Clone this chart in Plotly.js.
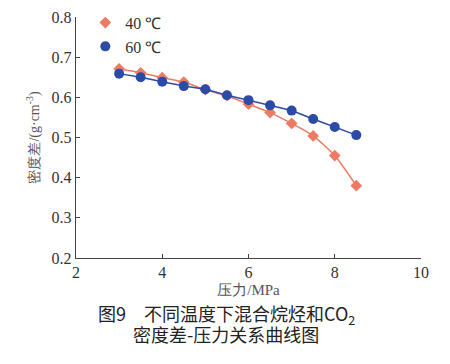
<!DOCTYPE html>
<html>
<head>
<meta charset="utf-8">
<script src="https://cdn.plot.ly/plotly-3.0.1.min.js"></script>
<style>
html,body{margin:0;padding:0;background:#fff;}
#chart{width:450px;height:364px;}
</style>
</head>
<body>
<div id="chart"></div>
<script>
const pressure = [3, 3.5, 4, 4.5, 5, 5.5, 6, 6.5, 7, 7.5, 8, 8.5];
const diff40 = [0.671, 0.661, 0.649, 0.638, 0.619, 0.604, 0.583, 0.562, 0.535, 0.504, 0.455, 0.380];
const diff60 = [0.659, 0.650, 0.639, 0.628, 0.620, 0.605, 0.593, 0.580, 0.567, 0.546, 0.526, 0.506];
const seriesNames = ['40 ℃', '60 ℃'];
const xTicks = [2, 4, 6, 8, 10];
const yTicks = [0.2, 0.3, 0.4, 0.5, 0.6, 0.7, 0.8];

const serif = 'Liberation Serif';
const cjk = 'Noto Sans CJK SC';
const c40 = '#ED7A62', c60 = '#2C4BA6';

const traces = [
  {x: pressure, y: diff40, name: seriesNames[0], mode: 'lines+markers', showlegend: false,
   line: {color: c40, width: 1.5, shape: 'spline', smoothing: 0.6},
   marker: {symbol: 'diamond', size: 9, color: c40}},
  {x: pressure, y: diff60, name: seriesNames[1], mode: 'lines+markers', showlegend: false,
   line: {color: c60, width: 1.5},
   marker: {symbol: 'circle', size: 10, color: c60}},
  {x: [null], y: [null], name: seriesNames[0], mode: 'markers',
   marker: {symbol: 'diamond', size: 9, color: c40}},
  {x: [null], y: [null], name: seriesNames[1], mode: 'markers',
   marker: {symbol: 'circle', size: 10, color: c60}}
];

const layout = {
  width: 450, height: 364,
  margin: {l: 76, r: 29, t: 17, b: 106, autoexpand: false},
  paper_bgcolor: '#fff', plot_bgcolor: '#fff',
  font: {family: serif, size: 16, color: '#333'},
  showlegend: true,
  legend: {x: 0.027, y: 1.047, xanchor: 'left', yanchor: 'top', bgcolor: 'rgba(0,0,0,0)',
           font: {family: serif, size: 16, color: '#333'}, itemwidth: 30, tracegroupgap: 0,
           traceorder: 'normal'},
  xaxis: {range: [2, 10], tickvals: xTicks, ticktext: xTicks.map(String), ticks: 'inside', ticklen: 4, tickcolor: '#444',
          showline: true, linecolor: '#444', linewidth: 1.2, showgrid: false, zeroline: false,
          tickfont: {family: serif, size: 16, color: '#333'},
          title: {text: '压力/MPa', font: {family: serif, size: 15, color: '#555'}, standoff: 4}},
  yaxis: {range: [0.2, 0.8], tickvals: yTicks, ticktext: yTicks.map(v => v.toFixed(1)),
          ticks: 'inside', ticklen: 4, tickcolor: '#444',
          showline: true, linecolor: '#444', linewidth: 1.2, showgrid: false, zeroline: false,
          tickfont: {family: serif, size: 16, color: '#333'},
          title: {text: '密度差/(g·cm<sup>-3</sup>)', font: {family: serif, size: 14, color: '#555'}, standoff: 8}},
  annotations: [
    {xref: 'paper', yref: 'paper', x: 0.435, y: -0.2344, xanchor: 'center', yanchor: 'middle', showarrow: false,
     text: '图9　不同温度下混合烷烃和CO<sub>2</sub>', font: {family: cjk, size: 18, color: '#222'}},
    {xref: 'paper', yref: 'paper', x: 0.435, y: -0.3174, xanchor: 'center', yanchor: 'middle', showarrow: false,
     text: '密度差-压力关系曲线图', font: {family: cjk, size: 18, color: '#222'}}
  ]
};

Plotly.newPlot('chart', traces, layout, {displayModeBar: false, staticPlot: true});
</script>
</body>
</html>
